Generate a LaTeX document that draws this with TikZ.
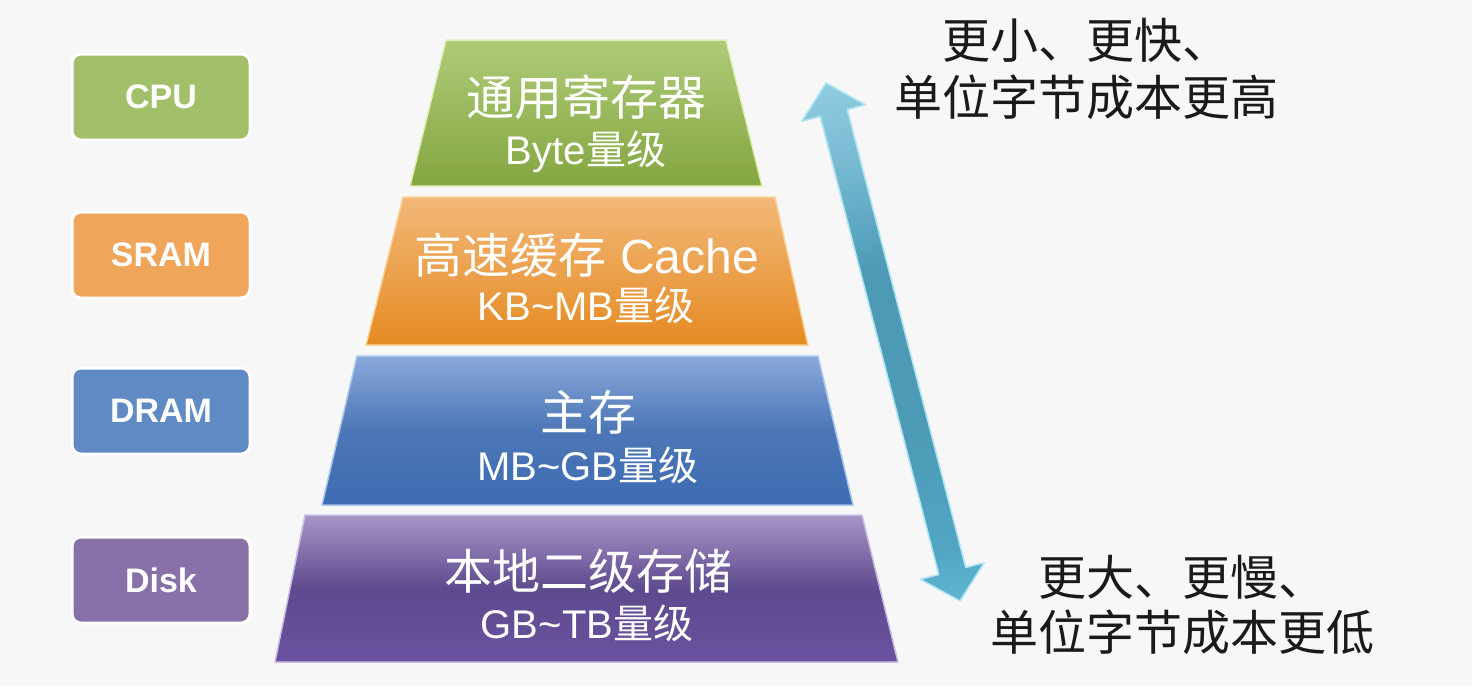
\documentclass[tikz,border=0pt]{standalone}
\usepackage{fontspec}
\setmainfont{Liberation Sans}
\newfontfamily\cjk{Noto Sans CJK SC}
\usetikzlibrary{calc}
\newcommand\zh[1]{{\cjk #1}}

\definecolor{bgc}{HTML}{F7F7F7}
\definecolor{cpuc}{HTML}{A2BF69}
\definecolor{sramc}{HTML}{EFA55A}
\definecolor{dramc}{HTML}{5F8AC3}
\definecolor{diskc}{HTML}{8870A8}
\definecolor{txtc}{HTML}{1A1A1A}
% level fills and rims
\definecolor{gTop}{HTML}{AECB78}\definecolor{gBot}{HTML}{84A640}\definecolor{gRim}{HTML}{E2F0B8}
\definecolor{oTop}{HTML}{F2B878}\definecolor{oBot}{HTML}{E58A22}\definecolor{oRim}{HTML}{F8D49A}
\definecolor{bTop}{HTML}{8AA9DA}\definecolor{bMid}{HTML}{4C76B6}\definecolor{bBot}{HTML}{3E6CB3}\definecolor{bRim}{HTML}{A9C6EE}
\definecolor{pTop}{HTML}{A895C7}\definecolor{pMid}{HTML}{5E4A8E}\definecolor{pBot}{HTML}{6A52A0}\definecolor{pRim}{HTML}{CBBDE6}
% arrow
\definecolor{aTop}{HTML}{A0D8EA}\definecolor{aUp}{HTML}{7CBDD5}\definecolor{aMid}{HTML}{4C9AB6}
\definecolor{aLow}{HTML}{52A6C3}\definecolor{aBot}{HTML}{6EC8E2}\definecolor{aRim}{HTML}{B2E6F4}
\pgfdeclareverticalshading{arrowshade}{100bp}{color(0bp)=(aBot); color(14bp)=(aBot);
  color(26bp)=(aLow); color(40bp)=(aMid); color(58bp)=(aMid); color(72bp)=(aUp); color(86bp)=(aTop); color(100bp)=(aTop)}

\tikzset{
  tagbox/.style={draw=white, line width=3pt, rounded corners=9pt, text=white,
    minimum width=178pt, minimum height=86pt, inner sep=0pt,
    font=\fontsize{34}{38}\bfseries\selectfont},
  bigline/.style={text=white, inner sep=0pt, font=\fontsize{48}{52}\selectfont},
  smallline/.style={text=white, inner sep=0pt, font=\fontsize{40}{44}\selectfont},
  sidenote/.style={text=txtc, align=center, inner sep=0pt},
  layer/.style={line width=1.5pt, line join=round}
}

\begin{document}
\begin{tikzpicture}[x=1pt,y=-1pt]
  % canvas
  \fill[bgc] (0,0) rectangle (1472,686);
  \useasboundingbox (0,0) rectangle (1472,686);

  % hierarchy levels, top to bottom
  \path[layer, draw=gRim, top color=gTop, bottom color=gBot]
    (446,40) -- (726,40) -- (762,186) -- (410,186) -- cycle;
  \path[layer, draw=oRim, top color=oTop, bottom color=oBot]
    (403,197) -- (775,197) -- (808,345) -- (366,345) -- cycle;
  \path[layer, draw=bRim, top color=bTop, bottom color=bBot, middle color=bMid]
    (357,356) -- (818,356) -- (853,505) -- (322,505) -- cycle;
  \path[layer, draw=pRim, top color=pTop, bottom color=pBot, middle color=pMid]
    (305,515) -- (862,515) -- (898,662) -- (275,662) -- cycle;

  % level captions
  \node[bigline]   (regA)  at (586,97)  {\zh{通用寄存器}};
  \node[smallline] (regB)  at (586,152) {Byte\zh{量级}};
  \node[bigline]   (cacA)  at (587,255) {\zh{高速缓存} Cache};
  \node[smallline] (cacB)  at (586,305) {KB\textasciitilde MB\zh{量级}};
  \node[bigline]   (memA)  at (588,412) {\zh{主存}};
  \node[smallline] (memB)  at (588,465) {MB\textasciitilde GB\zh{量级}};
  \node[bigline]   (dskA)  at (588,571) {\zh{本地二级存储}};
  \node[smallline] (dskB)  at (587,623) {GB\textasciitilde TB\zh{量级}};

  % hardware tags
  \node[tagbox, fill=cpuc]  (cpu)  at (161,97)  {CPU};
  \node[tagbox, fill=sramc] (sram) at (161,255) {SRAM};
  \node[tagbox, fill=dramc] (dram) at (161,411) {DRAM};
  \node[tagbox, fill=diskc] (disk) at (161,580) {Disk};

  % double-headed block arrow
  \coordinate (T1) at (826,83);
  \coordinate (T2) at (960,601);
  \coordinate (B1) at ($(T1)!31pt!(T2)$);
  \coordinate (B2) at ($(T2)!31pt!(T1)$);
  \path[draw=aRim, line width=1.6pt, line join=round,
        shading=arrowshade, shading angle=14]
    (T1) -- ($(B1)!33pt!90:(T2)$) -- ($(B1)!14pt!90:(T2)$)
    -- ($(B2)!14pt!90:(T2)$) -- ($(B2)!33pt!90:(T2)$) -- (T2)
    -- ($(B2)!33pt!-90:(T2)$) -- ($(B2)!14pt!-90:(T2)$)
    -- ($(B1)!14pt!-90:(T2)$) -- ($(B1)!33pt!-90:(T2)$) -- cycle;

  % side notes
  \node[sidenote, font=\cjk\fontsize{48}{57}\selectfont] (fast) at (1086,68.5)
    {更小、更快、\\单位字节成本更高};
  \node[sidenote, font=\cjk\fontsize{48}{55}\selectfont] (slow) at (1182,604.5)
    {更大、更慢、\\单位字节成本更低};
\end{tikzpicture}
\end{document}
